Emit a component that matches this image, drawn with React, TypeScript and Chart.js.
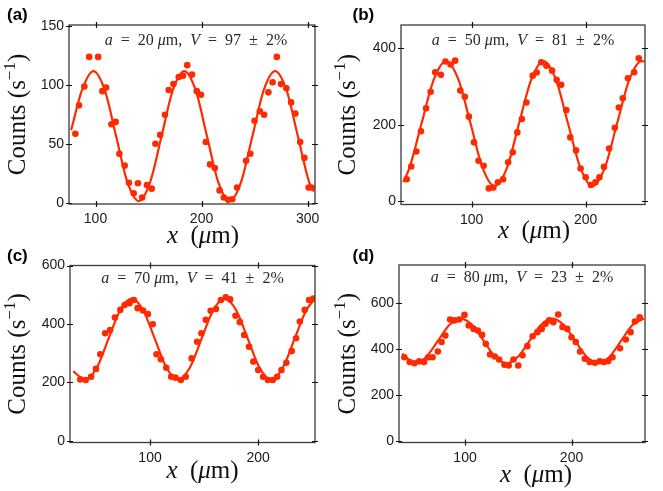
import React, { useEffect, useRef } from "react";
import { Chart, registerables } from "chart.js";
Chart.register(...registerables);

// ---------- data ----------
// panel (a): a = 20 µm
const aX = [81, 84.5, 89.5, 94, 102.5, 106.5, 110, 115, 119, 122.5, 127.5, 131.5, 136, 140, 144, 148.5, 153, 156.5, 161, 165.5, 169, 173.5, 178.5, 182.5, 186.5, 191, 195.5, 199.5, 204, 208, 212.5, 217, 221, 225, 229, 233.5, 242, 246, 250, 255, 259, 263, 267, 271, 275, 280, 284.5, 288.5, 293, 297, 301, 304];
const aY = [59, 83, 99, 124, 124, 95, 98, 67, 69, 42, 32, 17.5, 8.5, 17, 5, 15.5, 12.5, 50.5, 58, 75, 96, 101, 107, 108, 117, 109, 95, 92, 52, 33, 30, 11, 5, 3, 3.5, 13.5, 36, 42, 70, 78, 75, 94, 102.5, 124, 101, 97.5, 85.5, 76, 52, 38.5, 13.5, 13.5];
const aFitX = [77, 87.3, 98, 108.7, 119.4, 130.1, 140.8, 151.5, 162.3, 173, 183.7, 194.4, 205.1, 215.8, 226.5, 237.2, 248, 258.7, 269.4, 280.1, 290.8, 301.5, 306];
const aFitY = [62, 96, 112, 96, 57, 18, 2, 18, 57, 96, 112, 96, 57, 18, 2, 18, 57, 96, 112, 96, 57, 18, 10];

// panel (b): a = 50 µm
const bX = [43, 47, 51.5, 55.5, 60, 64, 68, 73, 77, 81.5, 85.5, 90, 94, 97.5, 102, 106, 110.5, 115, 119, 123, 127.5, 132, 136, 140, 144, 148, 153.5, 157, 161, 165.5, 170.5, 174.5, 178.5, 183, 186.5, 191.5, 195.5, 200, 204.5, 208.5, 212, 216, 220.5, 225.5, 229, 232.5, 237, 242.5, 246.5];
const bY = [58, 91, 130, 183, 243, 286, 337, 330, 365, 357, 367, 289, 273, 221, 154, 106, 93, 34, 36, 50, 58, 102, 128, 180, 215, 258, 328, 336, 363, 354, 341, 317, 304, 238, 167, 133, 86, 63, 43, 50, 63, 90, 138, 192, 245, 269, 321, 337, 373];
const bFitX = [40, 45.5, 56, 66.8, 77.5, 88.3, 99, 109.5, 120, 131, 141.5, 152.3, 163, 173.8, 184.5, 195.3, 206, 216.8, 227.5, 238.3, 249, 251.5];
const bFitY = [50, 88, 203, 318, 366, 318, 203, 88, 40, 88, 203, 318, 366, 318, 203, 88, 40, 88, 203, 318, 366, 365];

// panel (c): a = 70 µm
const cX = [35.5, 40.5, 45.5, 50, 54, 58.5, 63, 67.5, 72.5, 76.5, 81, 85, 88.5, 93.5, 98, 102.5, 106, 110, 115, 119.5, 123.5, 128.5, 133, 138.5, 143.5, 147.5, 151.5, 156, 161, 165.5, 170, 174, 179, 183, 187, 191.5, 195.5, 200, 204.5, 209, 213.5, 217.5, 221.5, 226, 231, 235, 238.5, 243, 247, 251];
const cY = [210, 208, 219, 246, 296, 368, 379, 422, 448, 465, 471, 482, 454, 446, 434, 399, 296, 279, 250, 219, 216, 208, 219, 282, 339, 368, 414, 445, 451, 482, 491, 484, 428, 406, 362, 322, 271, 242, 219, 208, 208, 219, 242, 267, 307, 351, 408, 448, 482, 487];
const cFitX = [29, 40, 50.75, 61.5, 72.25, 83, 93.75, 104.5, 115.25, 126, 136.75, 147.5, 158.25, 169, 179.75, 190.5, 201.25, 212, 222.75, 233.5, 244.25, 252];
const cFitY = [238, 209, 250, 348, 446, 487, 446, 348, 250, 209, 250, 348, 446, 487, 446, 348, 250, 209, 250, 348, 446, 484];

// panel (d): a = 80 µm
const dX = [43, 48, 52.5, 57, 61.5, 65.5, 69.5, 74.5, 78, 81.5, 86, 90, 94.5, 99.5, 103.5, 108, 112, 116, 119.5, 123.5, 128, 132, 137, 141, 145.5, 150, 154, 158.5, 163.5, 168, 172, 175.5, 179, 183, 187.5, 191.5, 196, 200, 204, 208, 212.5, 217, 222, 226.5, 230.5, 234.5, 238.5, 245.5, 251, 255.5, 259.5, 264];
const dY = [364, 343, 338, 346, 343, 364, 364, 389, 430, 458, 528, 524, 528, 548, 502, 487, 480, 461, 422, 376, 367, 354, 331, 328, 354, 328, 372, 412, 455, 473, 487, 509, 524, 516, 550, 495, 487, 451, 430, 389, 357, 343, 340, 346, 343, 347, 364, 403, 441, 473, 519, 538];
const dFitX = [41, 53, 63.75, 74.5, 85.25, 96, 106.75, 117.5, 128.25, 139, 149.75, 160.5, 171.25, 182, 192.75, 203.5, 214.25, 225, 235.75, 246.5, 257.25, 268];
const dFitY = [380, 338, 366, 435, 504, 532, 504, 435, 366, 338, 366, 435, 504, 532, 504, 435, 366, 338, 366, 435, 504, 532];

// tick values
const xTicksA = [100, 200, 300];
const yTicksA = [0, 50, 100, 150];
const xTicksB = [100, 200];
const yTicksB = [0, 200, 400];
const xTicksC = [100, 200];
const yTicksC = [0, 200, 400, 600];
const xTicksD = [100, 200];
const yTicksD = [0, 200, 400, 600];

// labels
const panelLetters = ["(a)", "(b)", "(c)", "(d)"];
const aValues = ["20", "50", "70", "80"];
const vValues = ["97", "81", "41", "23"];

// ---------- styling ----------
const RED = "#ff2a00";
const SERIF = "'Liberation Serif', 'Times New Roman', serif";
const SANS = "'Liberation Sans', Arial, sans-serif";

type Seg = [string, string, number?];

function drawRich(ctx: CanvasRenderingContext2D, segs: Seg[], cx: number, cy: number, rot = 0, color = "#111") {
  ctx.save();
  ctx.translate(cx, cy);
  ctx.rotate(rot);
  ctx.textBaseline = "alphabetic";
  ctx.textAlign = "left";
  ctx.fillStyle = color;
  let w = 0;
  for (const s of segs) {
    ctx.font = s[1];
    w += ctx.measureText(s[0]).width;
  }
  let x = -w / 2;
  for (const s of segs) {
    ctx.font = s[1];
    ctx.fillText(s[0], x, s[2] || 0);
    x += ctx.measureText(s[0]).width;
  }
  ctx.restore();
}

const PANELS = [
  {
    key: "a", left: 0, top: 0, w: 331, h: 250,
    area: { l: 69, t: 25, r: 315, b: 204 },
    xMin: 75, xMax: 307, yMin: -0.5, yMax: 151,
    xs: aX, ys: aY, fx: aFitX, fy: aFitY, xTicks: xTicksA, yTicks: yTicksA,
    letter: { x: 7, y: 20 }, annDx: 4, annDy: 20, xtDx: 11, xtDy: 39, ytX: 25, idx: 0,
  },
  {
    key: "b", left: 331, top: 0, w: 332, h: 250,
    area: { l: 70, t: 25, r: 314, b: 204.5 },
    xMin: 38, xMax: 252, yMin: -8, yMax: 460,
    xs: bX, ys: bY, fx: bFitX, fy: bFitY, xTicks: xTicksB, yTicks: yTicksB,
    letter: { x: 21.5, y: 20 }, annDx: 0, annDy: 20, xtDx: 11, xtDy: 33, ytX: 24, idx: 1,
  },
  {
    key: "c", left: 0, top: 244, w: 331, h: 247,
    area: { l: 70, t: 21.5, r: 315, b: 198.5 },
    xMin: 26, xMax: 252.5, yMin: -6, yMax: 600,
    xs: cX, ys: cY, fx: cFitX, fy: cFitY, xTicks: xTicksC, yTicks: yTicksC,
    letter: { x: 7, y: 17 }, annDx: 0, annDy: 17, xtDx: 10, xtDy: 35.5, ytX: 25, idx: 2,
  },
  {
    key: "d", left: 331, top: 244, w: 332, h: 247,
    area: { l: 68, t: 21, r: 314, b: 198.5 },
    xMin: 38, xMax: 269, yMin: -7, yMax: 765,
    xs: dX, ys: dY, fx: dFitX, fy: dFitY, xTicks: xTicksD, yTicks: yTicksD,
    letter: { x: 21.5, y: 17 }, annDx: 0, annDy: 17, xtDx: 14, xtDy: 39, ytX: 24, idx: 3,
  },
];

function makeDecor(p: any) {
  return {
    id: "decor_" + p.key,
    afterDraw(chart: any) {
      const ctx: CanvasRenderingContext2D = chart.ctx;
      const ca = chart.chartArea;
      const xs = chart.scales.x;
      const ys = chart.scales.y;
      ctx.save();
      // frame
      ctx.strokeStyle = "#3a3a3a";
      ctx.lineWidth = 1.3;
      ctx.strokeRect(ca.left, ca.top, ca.right - ca.left, ca.bottom - ca.top);
      // ticks crossing all four sides
      ctx.strokeStyle = "#111";
      ctx.lineWidth = 1.2;
      ctx.beginPath();
      for (const t of xs.ticks) {
        const px = Math.round(xs.getPixelForValue(t.value)) + 0.5;
        ctx.moveTo(px, ca.bottom - 3); ctx.lineTo(px, ca.bottom + 3);
        ctx.moveTo(px, ca.top - 3); ctx.lineTo(px, ca.top + 3);
      }
      for (const t of ys.ticks) {
        const py = Math.round(ys.getPixelForValue(t.value)) + 0.5;
        ctx.moveTo(ca.left - 3, py); ctx.lineTo(ca.left + 3, py);
        ctx.moveTo(ca.right - 3, py); ctx.lineTo(ca.right + 3, py);
      }
      ctx.stroke();

      const cx = (ca.left + ca.right) / 2;
      const cy = (ca.top + ca.bottom) / 2;
      const it = "italic 16px " + SERIF;
      const rm = "16px " + SERIF;
      // annotation
      drawRich(ctx, [
        ["a", it], ["\u2002=\u2002", rm], [aValues[p.idx] + " ", rm], ["\u03bc", it], ["m,", rm], ["\u2002", rm],
        ["V", it], ["\u2002=\u2002", rm], [vValues[p.idx], rm], ["\u2002\u00b1\u2002", rm], ["2%", rm],
      ], cx + p.annDx, ca.top + p.annDy, 0, "#2a2a2a");
      // x title
      const tit = "italic 25px " + SERIF;
      const trm = "25px " + SERIF;
      drawRich(ctx, [["x", tit], ["\u2002(", trm], ["\u03bc", tit], ["m)", trm]], cx + p.xtDx, ca.bottom + p.xtDy, 0, "#111");
      // y title
      drawRich(ctx, [["Counts (", trm], ["s", trm], ["\u22121", "17px " + SERIF, -10], [")", trm]], p.ytX, cy, -Math.PI / 2, "#111");
      // panel letter
      ctx.font = "bold 17px " + SANS;
      ctx.fillStyle = "#000";
      ctx.textAlign = "left";
      ctx.textBaseline = "alphabetic";
      ctx.fillText(panelLetters[p.idx], p.letter.x, p.letter.y);
      ctx.restore();
    },
  };
}

function Panel({ p }: { p: any }) {
  const ref = useRef<HTMLCanvasElement | null>(null);
  useEffect(() => {
    if (!ref.current) return;
    const pts = p.xs.map((x: number, i: number) => ({ x, y: p.ys[i] }));
    const fit = p.fx.map((x: number, i: number) => ({ x, y: p.fy[i] }));
    const tickFont = { family: SANS, size: 14 };
    const chart = new Chart(ref.current, {
      type: "scatter",
      data: {
        datasets: [
          {
            data: fit,
            showLine: true,
            borderColor: RED,
            borderWidth: 2.2,
            pointRadius: 0,
            cubicInterpolationMode: "monotone",
            fill: false,
          } as any,
          {
            data: pts,
            backgroundColor: RED,
            borderWidth: 0,
            pointRadius: 3.3,
          },
        ],
      },
      options: {
        responsive: false,
        animation: false,
        events: [],
        layout: { padding: { left: 0, top: p.area.t, right: p.w - p.area.r, bottom: 0 } },
        plugins: { legend: { display: false }, tooltip: { enabled: false } },
        scales: {
          x: {
            type: "linear",
            min: p.xMin,
            max: p.xMax,
            grid: { display: false, drawTicks: false },
            border: { display: false },
            ticks: { font: tickFont, color: "#1a1a1a", padding: 7, maxRotation: 0, includeBounds: false } as any,
            afterBuildTicks: (s: any) => { s.ticks = p.xTicks.map((v: number) => ({ value: v })); },
            afterFit: (s: any) => { s.height = p.h - p.area.b; },
          },
          y: {
            type: "linear",
            min: p.yMin,
            max: p.yMax,
            grid: { display: false, drawTicks: false },
            border: { display: false },
            ticks: { font: tickFont, color: "#1a1a1a", padding: 5, includeBounds: false } as any,
            afterBuildTicks: (s: any) => { s.ticks = p.yTicks.map((v: number) => ({ value: v })); },
            afterFit: (s: any) => { s.width = p.area.l; },
          },
        },
      },
      plugins: [makeDecor(p)],
    } as any);
    return () => chart.destroy();
  }, [p]);
  return (
    <canvas
      ref={ref}
      width={p.w}
      height={p.h}
      style={{ position: "absolute", left: p.left, top: p.top, width: p.w, height: p.h }}
    />
  );
}

export default function App() {
  return (
    <div style={{ position: "absolute", left: 0, top: 0, width: 663, height: 491, background: "#fff", overflow: "hidden" }}>
      {PANELS.map((p) => (
        <Panel key={p.key} p={p} />
      ))}
    </div>
  );
}
